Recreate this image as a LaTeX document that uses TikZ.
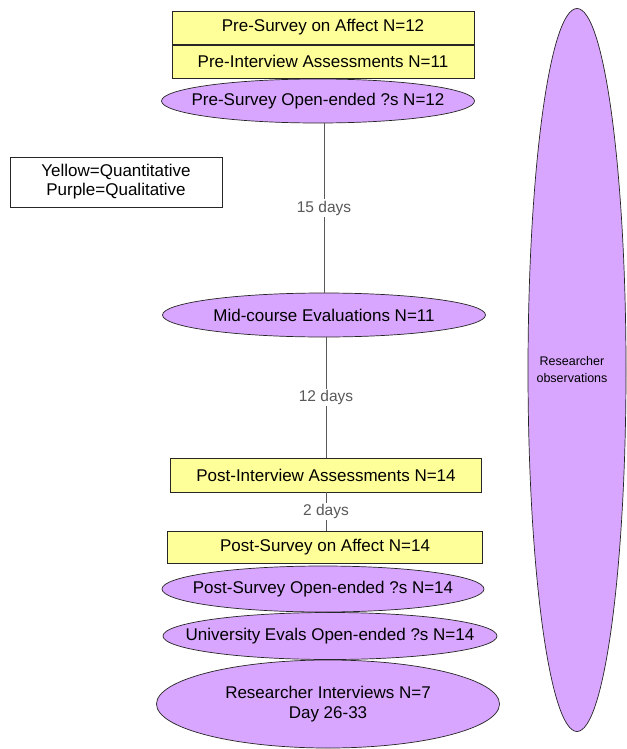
\documentclass[tikz,border=0pt]{standalone}
\usepackage{fontspec}
\setmainfont{Liberation Sans}
\usetikzlibrary{shapes.geometric}
\definecolor{qyellow}{RGB}{255,255,153}
\definecolor{qpurple}{RGB}{216,166,255}
\begin{document}
\begin{tikzpicture}[x=1pt,y=-1pt,
 quant/.style={draw=black!85, fill=qyellow, inner sep=0pt, line width=0.7pt, font=\fontsize{17}{19}\selectfont},
 qual/.style={draw=black!85, fill=qpurple, ellipse, inner sep=0pt, line width=0.7pt},
 qtext/.style={align=center, inner sep=0pt, font=\fontsize{17}{20}\selectfont},
 legend/.style={draw=black!85, fill=white, inner sep=0pt, line width=0.7pt, align=center, font=\fontsize{17}{19}\selectfont},
 link/.style={draw=black!65, line width=0.8pt},
 gap/.style={fill=white, text=black!65, inner sep=1.5pt, font=\fontsize{15.5}{17}\selectfont}]
\useasboundingbox[fill=white] (0,0) rectangle (626,749);
\node[qual, minimum width=98pt, minimum height=723pt, label={[qtext, font=\fontsize{12.5}{17}\selectfont, xshift=-5pt]center:{Researcher\\observations}}] (obs) at (577,370) {};
\node[quant, minimum width=302pt, minimum height=33pt] (a1) at (323,27.5) {Pre-Survey on Affect N=12};
\node[quant, minimum width=302pt, minimum height=33pt] (a2) at (323,61.5) {Pre-Interview Assessments N=11};
\node[qual, minimum width=313pt, minimum height=44pt, label={[qtext]center:Pre-Survey Open-ended ?s N=12}] (a3) at (318,101) {};
\node[legend, minimum width=212pt, minimum height=50pt] (key) at (116,182) {Yellow=Quantitative\\Purple=Qualitative};
\node[qual, minimum width=323pt, minimum height=44pt, label={[qtext]center:Mid-course Evaluations N=11}] (mid) at (324,315) {};
\node[quant, minimum width=311pt, minimum height=34pt] (pi) at (326,475) {Post-Interview Assessments N=14};
\node[quant, minimum width=315pt, minimum height=32pt] (ps) at (325,547) {Post-Survey on Affect N=14};
\node[qual, minimum width=343pt, minimum height=88pt, label={[qtext]center:{Researcher Interviews N=7\\Day 26-33}}] (ri) at (328,704) {};
\node[qual, minimum width=334pt, minimum height=47pt, label={[qtext]center:University Evals Open-ended ?s N=14}] (ue) at (330,636) {};
\node[qual, minimum width=322pt, minimum height=46pt, label={[qtext]center:Post-Survey Open-ended ?s N=14}] (po) at (323,589) {};
\draw[link] (mid.north |- a3.south) -- node[gap] {15 days} (mid.north);
\draw[link] (pi.north |- mid.south) -- node[gap] {12 days} (pi.north);
\draw[link] (pi.south) -- node[gap] {2 days} (pi.south |- ps.north);
\end{tikzpicture}
\end{document}
